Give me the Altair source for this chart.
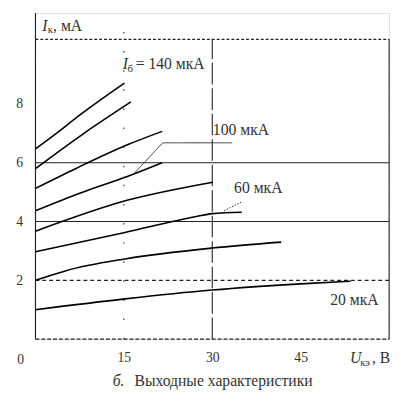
import altair as alt
import pandas as pd

# ---- curve data (U_ce in V, I_c in mA) ----
curve_names = ["A", "B", "C", "D", "E", "F", "G", "H"]
A_x = [0, 4, 7.5, 15.1];        A_y = [6.47, 7.07, 7.62, 8.71]
B_x = [0, 8, 16.2];             B_y = [5.80, 6.97, 8.07]
C_x = [0, 6.8, 15.7, 21.5];     C_y = [5.13, 5.80, 6.62, 7.07]
D_x = [0, 8, 15.7, 21.5];       D_y = [4.37, 5.00, 5.54, 6.00]
E_x = [0, 15.7, 30.1];          E_y = [3.67, 4.73, 5.34]
F_x = [0, 15.2, 27.3, 30, 35];  F_y = [2.97, 3.63, 4.17, 4.27, 4.32]
G_x = [0, 5.2, 15.2, 30, 41.7]; G_y = [2.00, 2.33, 2.73, 3.10, 3.30]
H_x = [0, 15.2, 30, 45, 53.5];  H_y = [1.00, 1.37, 1.67, 1.88, 1.97]
curve_xs = [A_x, B_x, C_x, D_x, E_x, F_x, G_x, H_x]
curve_ys = [A_y, B_y, C_y, D_y, E_y, F_y, G_y, H_y]

rows = []
for name, xs, ys in zip(curve_names, curve_xs, curve_ys):
    for i, (x, y) in enumerate(zip(xs, ys)):
        rows.append({"c": name, "i": i, "x": x, "y": y})
curves = pd.DataFrame(rows)

# ---- frame / grid lines ----
rule_x  = [0, 60, 0, 0, 0, 0, 0, 15, 30]
rule_x2 = [0, 60, 60, 60, 60, 60, 60, 15, 30]
rule_y  = [0, 0, 10.2, 0, 2, 4, 6, 0, 0]
rule_y2 = [11.1, 10.2, 10.2, 0, 2, 4, 6, 10.5, 10.2]
rule_st = ["solid", "solid", "dashdot", "dash", "dash2", "solid", "solid", "dots", "long"]
rules = pd.DataFrame({"x": rule_x, "x2": rule_x2, "y": rule_y, "y2": rule_y2, "s": rule_st})
dash_domain = ["solid", "dashdot", "dash", "dash2", "dots", "long", "dotted"]
dash_range = [[1, 0], [3, 2], [4, 2], [4, 3], [1.5, 18], [22, 4], [1.5, 1.5]]

# ---- leader lines ----
lead_id = ["L100", "L100", "L100", "L60", "L60"]
lead_i = [0, 1, 2, 0, 1]
lead_x = [33.4, 21.6, 16.8, 32.0, 35.1]
lead_y = [6.68, 6.68, 5.65, 4.37, 4.68]
lead_s = ["solid", "solid", "solid", "dotted", "dotted"]
leaders = pd.DataFrame({"c": lead_id, "i": lead_i, "x": lead_x, "y": lead_y, "s": lead_s})

# ---- texts ----
norm_text = [", мА", "= 140 мкА", "100 мкА", "60 мкА", "20 мкА", ", В", "Выходные характеристики"]
norm_x = [3.0, 17.0, 30.1, 33.7, 50.0, 57.1, 16.8]
norm_y = [10.5, 9.2, 6.93, 4.97, 1.17, -0.8, -1.6]
ital_text = ["I", "I", "U", "б."]
ital_x = [1.16, 14.8, 53.35, 13.1]
ital_y = [10.5, 9.2, -0.8, -1.6]
sub_text = ["к", "б", "кэ"]
sub_x = [2.1, 15.6, 55.1]
sub_y = [10.4, 9.1, -0.9]
zero_text = ["0"]
zero_x = [-2.5]
zero_y = [-0.83]

xs = alt.Scale(domain=[0, 60], nice=False, zero=False)
ys = alt.Scale(domain=[0, 11.1], nice=False, zero=False)
FONT = "Liberation Serif, Times New Roman, serif"
TC = "#333333"

base_x = alt.X("x:Q", scale=xs,
               axis=alt.Axis(values=[15, 30, 45], title=None, grid=False, ticks=False,
                             domain=False, labelPadding=12, labelFontSize=14,
                             labelFont=FONT, labelColor=TC, labelFlush=False))
base_y = alt.Y("y:Q", scale=ys,
               axis=alt.Axis(values=[2, 4, 6, 8], title=None, grid=False, ticks=False,
                             domain=False, labelPadding=13, labelFontSize=14,
                             labelFont=FONT, labelColor=TC, labelFlush=False))

curve_layer = alt.Chart(curves).mark_line(color="black", strokeWidth=1.6, interpolate="monotone").encode(
    x=base_x, y=base_y, detail="c:N", order="i:Q")

dash = alt.StrokeDash("s:N", scale=alt.Scale(domain=dash_domain, range=dash_range), legend=None)

rule_layer = alt.Chart(rules).mark_rule(color="#222", strokeWidth=1.1).encode(
    x=alt.X("x:Q", scale=xs), x2="x2:Q",
    y=alt.Y("y:Q", scale=ys), y2="y2:Q", strokeDash=dash)

lead_layer = alt.Chart(leaders).mark_line(color="#333", strokeWidth=1).encode(
    x=alt.X("x:Q", scale=xs), y=alt.Y("y:Q", scale=ys), detail="c:N", order="i:Q", strokeDash=dash)

def text_layer(texts, tx, ty, size, style="normal", align="left"):
    df = pd.DataFrame({"x": tx, "y": ty, "t": texts})
    return alt.Chart(df).mark_text(font=FONT, fontSize=size, fontStyle=style, align=align,
                                   baseline="alphabetic", color=TC).encode(
        x=alt.X("x:Q", scale=xs), y=alt.Y("y:Q", scale=ys), text="t:N")

chart = alt.layer(
    rule_layer,
    curve_layer,
    lead_layer,
    text_layer(norm_text, norm_x, norm_y, 16),
    text_layer(ital_text, ital_x, ital_y, 16, "italic"),
    text_layer(sub_text, sub_x, sub_y, 11),
    text_layer(zero_text, zero_x, zero_y, 14, align="center"),
).properties(
    width=361, height=333,
    padding={"left": 28, "top": 1, "right": 5, "bottom": 52},
    autosize=alt.AutoSizeParams(type="none"),
).configure_view(stroke=None).configure(background="white")

chart.save("out.html", embed_options={"renderer": "svg", "actions": False})
